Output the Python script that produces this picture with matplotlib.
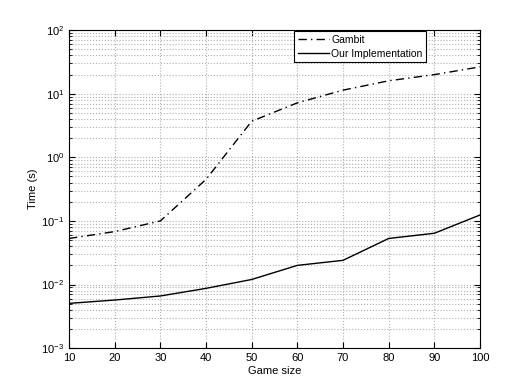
import matplotlib
matplotlib.use('Agg')
import matplotlib.pyplot as plt
from matplotlib.ticker import LogLocator, FixedLocator

plt.rcParams['font.family'] = 'Liberation Sans'
plt.rcParams['mathtext.fontset'] = 'custom'
plt.rcParams['mathtext.rm'] = 'Liberation Sans'
plt.rcParams['mathtext.it'] = 'Liberation Sans'

# data
game_size = [10, 20, 30, 40, 50, 60, 70, 80, 90, 100]
gambit = [0.053, 0.068, 0.10, 0.45, 3.7, 7.2, 11.4, 16.0, 20.0, 26.5]
ours = [0.00505, 0.0057, 0.0066, 0.0087, 0.012, 0.020, 0.024, 0.053, 0.064, 0.124]

fig = plt.figure(figsize=(5.31, 3.92), dpi=100)
ax = fig.add_axes([0.13, 0.112, 0.774, 0.811])

ax.semilogy(game_size, gambit, color='black', linewidth=1.0,
            linestyle=(0, (6, 3, 1, 3)), label='Gambit')
ax.semilogy(game_size, ours, color='black', linewidth=1.0,
            linestyle='-', label='Our Implementation')

ax.set_xlim(10, 100)
ax.set_ylim(1e-3, 1e2)
ax.xaxis.set_major_locator(FixedLocator(game_size))
ax.yaxis.set_major_locator(LogLocator(base=10, numticks=10))
ax.yaxis.set_minor_locator(LogLocator(base=10, subs=range(2, 10), numticks=20))

ax.grid(True, which='major', color='#b0b0b0', linestyle=':', linewidth=0.8)
ax.grid(True, which='minor', axis='y', color='#b0b0b0', linestyle=':', linewidth=0.8)
ax.tick_params(axis='both', which='both', direction='in', labelsize=8,
               top=True, right=True)
ax.tick_params(which='minor', length=2)
ax.tick_params(which='major', length=4)
for s in ax.spines.values():
    s.set_linewidth(0.8)

ax.set_xlabel('Game size', fontsize=8, labelpad=2)
ax.set_ylabel('Time (s)', fontsize=8)
ax.yaxis.set_label_coords(-0.075, 0.5)

leg = ax.legend(loc='upper left', bbox_to_anchor=(0.545, 1.0), fontsize=7.5,
                fancybox=False, framealpha=1, edgecolor='black',
                borderaxespad=0.1, handlelength=3.0, handletextpad=0.2,
                labelspacing=0.35, borderpad=0.35)
leg.get_frame().set_linewidth(0.8)

fig.savefig('out.png', dpi=100)
